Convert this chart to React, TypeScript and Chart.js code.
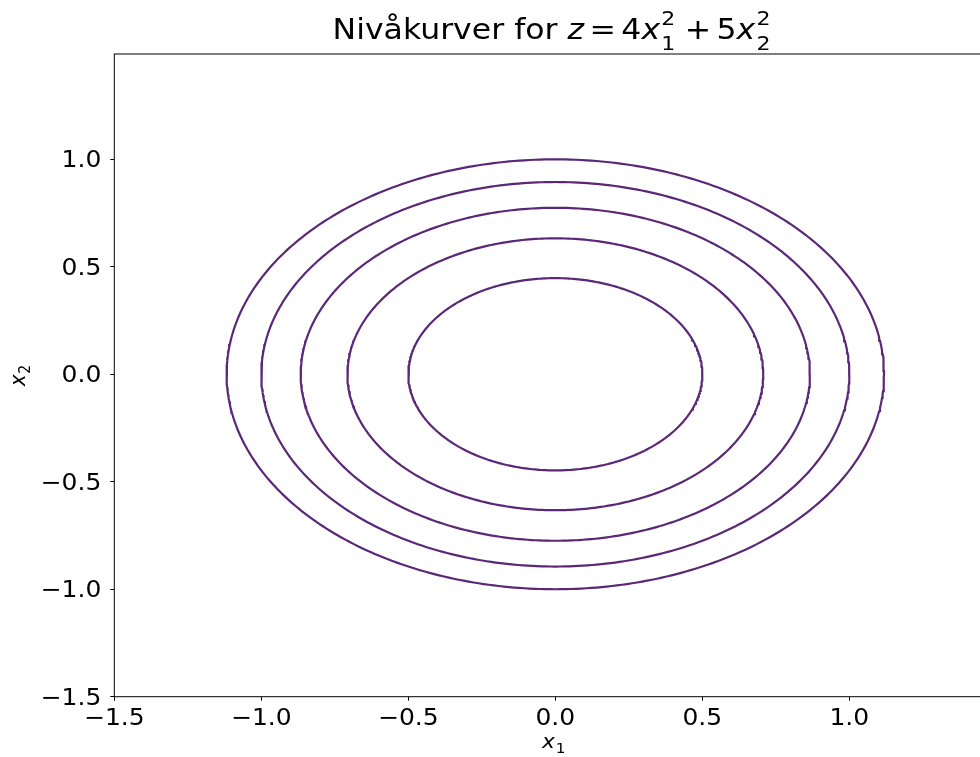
import React, { useEffect, useRef } from "react";
import { Chart, registerables } from "chart.js";

Chart.register(...registerables);

// Contour levels of z = 4*x1^2 + 5*x2^2 shown in the picture
const LEVELS = [1, 2, 3, 4, 5];
const COEF_X1 = 4;
const COEF_X2 = 5;
const SAMPLES = 400;

const X_TICKS = [-1.5, -1.0, -0.5, 0.0, 0.5, 1.0];
const Y_TICKS = [-1.5, -1.0, -0.5, 0.0, 0.5, 1.0];
const X_MIN = -1.5;
const X_MAX = 1.49;
const Y_MIN = -1.5;
const Y_MAX = 1.49;

const LINE_COLOR = "#5b2878";
const FONT = "DejaVu Sans";
const SX = 1.087; // horizontal text stretch seen in the reference

const CANVAS_W = 1000;
const CANVAS_H = 757;

function fmt(v: number): string {
  return v.toFixed(1).replace("-", "\u2212");
}

function contour(z: number) {
  const a = Math.sqrt(z / COEF_X1);
  const b = Math.sqrt(z / COEF_X2);
  const pts: { x: number; y: number }[] = [];
  for (let k = 0; k <= SAMPLES; k++) {
    const t = (2 * Math.PI * k) / SAMPLES;
    pts.push({ x: a * Math.cos(t), y: b * Math.sin(t) });
  }
  return pts;
}

type Part =
  | { t: string; it?: boolean }
  | { sup?: string; sub?: string }
  | { gap: number };

function partWidth(ctx: CanvasRenderingContext2D, p: Part, size: number) {
  if ("gap" in p) return p.gap;
  if ("t" in p) {
    ctx.font = `${p.it ? "italic " : ""}${size}px "${FONT}"`;
    return ctx.measureText(p.t).width;
  }
  ctx.font = `${size * 0.7}px "${FONT}"`;
  const w1 = p.sup ? ctx.measureText(p.sup).width : 0;
  const w2 = p.sub ? ctx.measureText(p.sub).width : 0;
  return Math.max(w1, w2) + size * 0.06;
}

function drawMath(
  ctx: CanvasRenderingContext2D,
  parts: Part[],
  cx: number,
  baseline: number,
  size: number,
  supShift: number,
  subShift: number
) {
  const widths = parts.map((p) => partWidth(ctx, p, size));
  const total = widths.reduce((s, w) => s + w, 0);
  ctx.save();
  ctx.translate(cx - (total * SX) / 2, baseline);
  ctx.scale(SX, 1);
  ctx.fillStyle = "#000";
  ctx.textBaseline = "alphabetic";
  ctx.textAlign = "left";
  let x = 0;
  parts.forEach((p, i) => {
    if ("gap" in p) {
      // spacing only
    } else if ("t" in p) {
      ctx.font = `${p.it ? "italic " : ""}${size}px "${FONT}"`;
      ctx.fillText(p.t, x, 0);
    } else {
      ctx.font = `${size * 0.7}px "${FONT}"`;
      if (p.sup) ctx.fillText(p.sup, x + size * 0.04, -supShift);
      if (p.sub) ctx.fillText(p.sub, x + size * 0.04, subShift);
    }
    x += widths[i];
  });
  ctx.restore();
}

function drawStretched(
  ctx: CanvasRenderingContext2D,
  text: string,
  x: number,
  baseline: number,
  align: "center" | "right"
) {
  const w = ctx.measureText(text).width * SX;
  const left = align === "center" ? x - w / 2 : x - w;
  ctx.save();
  ctx.translate(left, baseline);
  ctx.scale(SX, 1);
  ctx.textAlign = "left";
  ctx.textBaseline = "alphabetic";
  ctx.fillText(text, 0, 0);
  ctx.restore();
}

const TICK_SIZE = 23;

const decorPlugin = {
  id: "decor",
  afterDraw(chart: any) {
    const ctx: CanvasRenderingContext2D = chart.ctx;
    const a = chart.chartArea;
    const xs = chart.scales.x;
    const ys = chart.scales.y;
    ctx.save();
    // frame (spines)
    ctx.strokeStyle = "#000";
    ctx.lineWidth = 1;
    ctx.strokeRect(a.left, a.top, a.right - a.left, a.bottom - a.top);

    // tick labels
    ctx.fillStyle = "#000";
    ctx.font = `${TICK_SIZE}px "${FONT}"`;
    X_TICKS.forEach((v) => {
      drawStretched(ctx, fmt(v), xs.getPixelForValue(v), a.bottom + 28.3, "center");
    });
    Y_TICKS.forEach((v) => {
      drawStretched(ctx, fmt(v), a.left - 13, ys.getPixelForValue(v) + 8, "right");
    });

    const cx = (a.left + a.right) / 2 - 2;
    // title
    const ts = 29;
    drawMath(
      ctx,
      [
        { t: "Nivåkurver for " },
        { t: "z", it: true },
        { gap: 5 },
        { t: "=" },
        { gap: 5 },
        { t: "4" },
        { t: "x", it: true },
        { sup: "2", sub: "1" },
        { gap: 8 },
        { t: "+" },
        { gap: 5 },
        { t: "5" },
        { t: "x", it: true },
        { sup: "2", sub: "2" },
      ],
      cx,
      39,
      ts,
      14,
      11
    );

    // x label
    const ls = 20;
    drawMath(ctx, [{ t: "x", it: true }, { sub: "1" }], cx + 2, 748, ls, 0, 5);

    // y label (rotated)
    ctx.save();
    ctx.translate(24.5, (a.top + a.bottom) / 2);
    ctx.rotate(-Math.PI / 2);
    ctx.scale(1 / SX, SX);
    drawMath(ctx, [{ t: "x", it: true }, { sub: "2" }], 0, 0, ls, 0, 5);
    ctx.restore();
    ctx.restore();
  },
};

export default function App() {
  const ref = useRef<HTMLCanvasElement | null>(null);

  useEffect(() => {
    if (!ref.current) return;
    const gridOpts = {
      display: true,
      drawOnChartArea: false,
      drawTicks: true,
      tickLength: 4,
      tickColor: "#000",
      tickWidth: 1,
    };
    const chart = new Chart(ref.current, {
      type: "scatter",
      data: {
        datasets: LEVELS.map((z) => ({
          label: `z=${z}`,
          data: contour(z),
          showLine: true,
          borderColor: LINE_COLOR,
          backgroundColor: LINE_COLOR,
          borderWidth: 2.2,
          pointRadius: 0,
          pointHoverRadius: 0,
          fill: false,
          tension: 0,
        })),
      },
      options: {
        animation: false,
        responsive: false,
        devicePixelRatio: 1,
        events: [],
        layout: { padding: { top: 54, right: CANVAS_W - 993.4, left: 0, bottom: 0 } },
        plugins: {
          legend: { display: false },
          tooltip: { enabled: false },
          title: { display: false },
        },
        scales: {
          x: {
            type: "linear",
            min: X_MIN,
            max: X_MAX,
            afterBuildTicks: (s: any) => {
              s.ticks = X_TICKS.map((v) => ({ value: v }));
            },
            afterFit: (s: any) => {
              s.height = 60.3;
            },
            grid: gridOpts,
            border: { display: false },
            ticks: { display: false, autoSkip: false },
          },
          y: {
            type: "linear",
            min: Y_MIN,
            max: Y_MAX,
            afterBuildTicks: (s: any) => {
              s.ticks = Y_TICKS.map((v) => ({ value: v }));
            },
            afterFit: (s: any) => {
              s.width = 114.3;
            },
            grid: gridOpts,
            border: { display: false },
            ticks: { display: false, autoSkip: false },
          },
        },
      },
      plugins: [decorPlugin],
    } as any);
    return () => chart.destroy();
  }, []);

  return (
    <div
      style={{
        position: "fixed",
        left: 0,
        top: 0,
        width: 980,
        height: 757,
        overflow: "hidden",
        background: "#fff",
      }}
    >
      <canvas
        ref={ref}
        width={CANVAS_W}
        height={CANVAS_H}
        style={{ width: CANVAS_W, height: CANVAS_H, display: "block" }}
      />
    </div>
  );
}
